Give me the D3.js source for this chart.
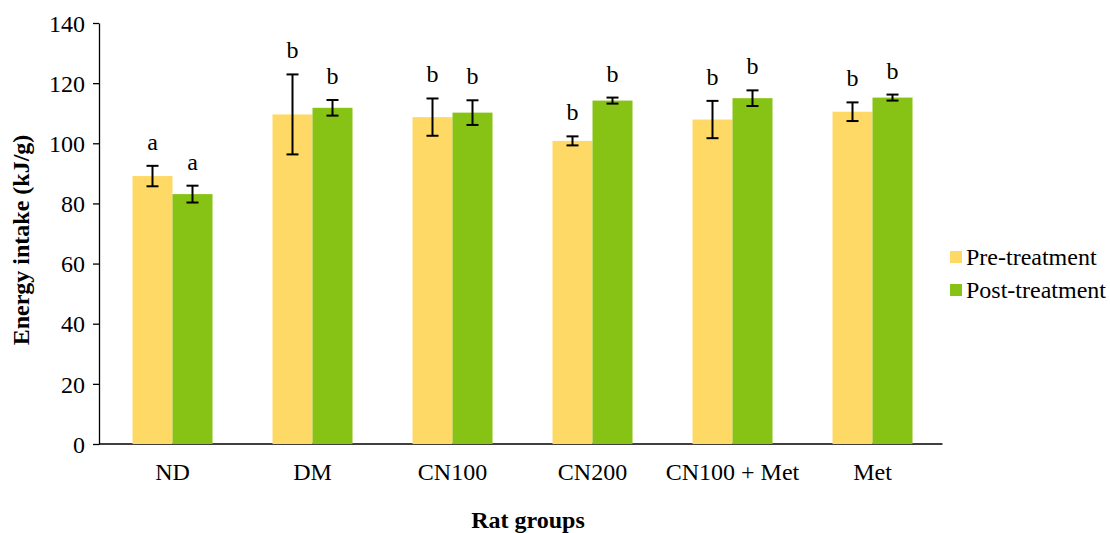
<!DOCTYPE html>
<html lang="en">
<head>
    <meta charset="UTF-8">
    <title>Energy intake by rat group</title>
    <script src="https://d3js.org/d3.v7.min.js"></script>
    <style>
        body { margin: 0; background: #fff; }
        svg text { font-family: "Liberation Serif", "Times New Roman", serif; fill: #000; }
        .axis path, .axis line { stroke: #000; stroke-width: 1.3px; }
        .axis text { font-size: 24px; }
        .title { font-size: 24px; font-weight: bold; }
        .letter { font-size: 24px; }
        .legend text { font-size: 24px; }
        .err { stroke: #000; stroke-width: 2px; }
    </style>
</head>
<body>
    <div id="chart"></div>

    <script>
        // data
        const groups = ['ND', 'DM', 'CN100', 'CN200', 'CN100 + Met', 'Met'];
        const seriesNames = ['Pre-treatment', 'Post-treatment'];
        const preValues = [89.1, 109.6, 108.7, 100.8, 107.9, 110.5];
        const preErrors = [3.4, 13.3, 6.2, 1.5, 6.2, 3.1];
        const postValues = [83.1, 111.8, 110.2, 114.2, 115.0, 115.2];
        const postErrors = [2.8, 2.6, 4.1, 1.0, 2.6, 1.0];
        const preLetters = ['a', 'b', 'b', 'b', 'b', 'b'];
        const postLetters = ['a', 'b', 'b', 'b', 'b', 'b'];
        const yTicks = [0, 20, 40, 60, 80, 100, 120, 140];
        const colors = ['#FFD966', '#86C314'];

        const width = 1110, height = 533;
        const svg = d3.select("#chart").append("svg")
            .attr("width", width)
            .attr("height", height);

        const x = d3.scaleBand()
            .domain(groups)
            .range([102.5, 942.5])
            .paddingInner(60 / 140)
            .paddingOuter(30 / 140);

        const xSub = d3.scaleBand()
            .domain(seriesNames)
            .range([0, x.bandwidth()]);

        const y = d3.scaleLinear()
            .domain([0, 140])
            .range([444, 23]);

        // y axis
        svg.append("g")
            .attr("class", "axis")
            .attr("transform", "translate(99,0)")
            .call(d3.axisLeft(y).tickValues(yTicks).tickSize(6).tickSizeOuter(0).tickPadding(8))
            .call(g => g.selectAll("text").attr("dy", "0.34em"));

        // x axis baseline
        svg.append("line")
            .attr("x1", 99).attr("x2", x.range()[1])
            .attr("y1", y(0)).attr("y2", y(0))
            .attr("stroke", "#000").attr("stroke-width", 1.3);

        svg.append("g")
            .attr("class", "axis")
            .selectAll("text")
            .data(groups)
            .join("text")
            .attr("x", d => x(d) + x.bandwidth() / 2)
            .attr("y", 480)
            .attr("text-anchor", "middle")
            .text(d => d);

        const rows = [];
        groups.forEach((g, i) => {
            rows.push({ group: g, series: seriesNames[0], value: preValues[i], err: preErrors[i], letter: preLetters[i], color: colors[0] });
            rows.push({ group: g, series: seriesNames[1], value: postValues[i], err: postErrors[i], letter: postLetters[i], color: colors[1] });
        });

        const cx = d => x(d.group) + xSub(d.series) + xSub.bandwidth() / 2;

        // bars
        svg.append("g")
            .selectAll("rect")
            .data(rows)
            .join("rect")
            .attr("x", d => x(d.group) + xSub(d.series))
            .attr("width", xSub.bandwidth())
            .attr("y", d => y(d.value))
            .attr("height", d => y(0) - y(d.value))
            .attr("fill", d => d.color);

        // error bars
        const err = svg.append("g").selectAll("g")
            .data(rows)
            .join("g");

        err.append("line").attr("class", "err")
            .attr("x1", cx).attr("x2", cx)
            .attr("y1", d => y(d.value + d.err))
            .attr("y2", d => y(d.value - d.err));
        err.append("line").attr("class", "err")
            .attr("x1", d => cx(d) - 6).attr("x2", d => cx(d) + 6)
            .attr("y1", d => y(d.value + d.err))
            .attr("y2", d => y(d.value + d.err));
        err.append("line").attr("class", "err")
            .attr("x1", d => cx(d) - 6).attr("x2", d => cx(d) + 6)
            .attr("y1", d => y(d.value - d.err))
            .attr("y2", d => y(d.value - d.err));

        // significance letters
        svg.append("g")
            .selectAll("text")
            .data(rows)
            .join("text")
            .attr("class", "letter")
            .attr("x", cx)
            .attr("y", d => y(d.value + d.err) - 16)
            .attr("text-anchor", "middle")
            .text(d => d.letter);

        // axis titles
        svg.append("text")
            .attr("class", "title")
            .attr("transform", "translate(29,240) rotate(-90)")
            .attr("text-anchor", "middle")
            .text("Energy intake (kJ/g)");

        svg.append("text")
            .attr("class", "title")
            .attr("x", 528)
            .attr("y", 528)
            .attr("text-anchor", "middle")
            .text("Rat groups");

        // legend
        const legend = svg.append("g")
            .attr("class", "legend")
            .selectAll("g")
            .data(seriesNames)
            .join("g")
            .attr("transform", (d, i) => `translate(950,${257 + i * 33})`);

        legend.append("rect")
            .attr("x", 0).attr("y", -6)
            .attr("width", 12).attr("height", 12)
            .attr("fill", (d, i) => colors[i]);

        legend.append("text")
            .attr("x", 16)
            .attr("dy", "0.34em")
            .text(d => d);
    </script>
</body>
</html>
